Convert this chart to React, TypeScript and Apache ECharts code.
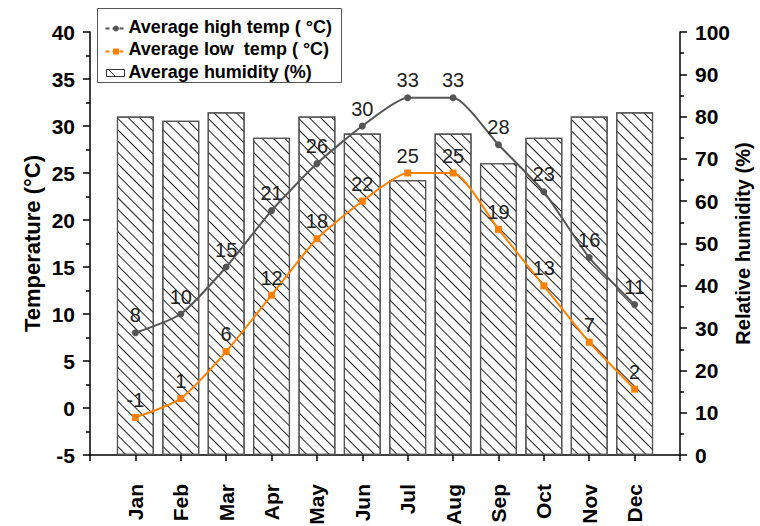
import React, { useEffect, useRef } from "react";
import * as echarts from "echarts";

const months = ["Jan", "Feb", "Mar", "Apr", "May", "Jun", "Jul", "Aug", "Sep", "Oct", "Nov", "Dec"];
const highTemp = [8, 10, 15, 21, 26, 30, 33, 33, 28, 23, 16, 11];
const lowTemp = [-1, 1, 6, 12, 18, 22, 25, 25, 19, 13, 7, 2];
const humidity = [80, 79, 81, 75, 80, 76, 65, 76, 69, 75, 80, 81];

const FONT = "'Liberation Sans', Arial, Helvetica, sans-serif";
const HIGH_COLOR = "#555555";
const LOW_COLOR = "#ff8000";

export default function App() {
  const ref = useRef<HTMLDivElement>(null);

  useEffect(() => {
    if (!ref.current) return;
    const chart = echarts.init(ref.current, undefined, { renderer: "svg" });

    const axisTextStyle = { color: "#000", fontFamily: FONT, fontWeight: "bold" as const, fontSize: 21 };
    const axisLine = { show: true, lineStyle: { color: "#000", width: 1.5 } };
    const tick = { show: true, inside: false, length: 7, lineStyle: { color: "#000", width: 1.5 } };
    const minor = { show: true, splitNumber: 2, length: 4, lineStyle: { color: "#000", width: 1.5 } };
    const valueLabel = { show: true, position: "top" as const, distance: 4, color: "#222", fontFamily: FONT, fontSize: 20 };
    const legendFont = `bold 18px ${FONT}`;

    chart.setOption({
      animation: false,
      backgroundColor: "#fff",
      grid: { left: 90, right: 80, top: 32, bottom: 71, containLabel: false, outerBoundsMode: "none" },
      xAxis: {
        type: "value",
        min: 0,
        max: 13,
        interval: 1,
        axisLine: { ...axisLine, onZero: false },
        axisTick: { ...tick, length: 6 },
        splitLine: { show: false },
        axisLabel: {
          ...axisTextStyle,
          rotate: 90,
          margin: 29,
          formatter: (v: number) => months[v - 1] ?? "",
        },
      },
      yAxis: [
        {
          type: "value",
          min: -5,
          max: 40,
          interval: 5,
          position: "left",
          axisLine,
          axisTick: tick,
          minorTick: minor,
          splitLine: { show: false },
          axisLabel: { ...axisTextStyle, margin: 15 },
          name: "Temperature (°C)",
          nameLocation: "middle",
          nameGap: 47,
          nameMoveOverlap: false,
          nameTextStyle: { ...axisTextStyle, fontSize: 22 },
        },
        {
          type: "value",
          min: 0,
          max: 100,
          interval: 10,
          position: "right",
          axisLine,
          axisTick: tick,
          minorTick: minor,
          splitLine: { show: false },
          axisLabel: { ...axisTextStyle, margin: 15 },
          name: "Relative humidity (%)",
          nameLocation: "middle",
          nameGap: 53,
          nameMoveOverlap: false,
          nameTextStyle: { ...axisTextStyle, fontSize: 20 },
        },
      ],
      series: [
        {
          name: "Average humidity (%)",
          type: "bar",
          yAxisIndex: 1,
          barWidth: 37,
          z: 1,
          data: humidity.map((v, i) => [i + 1, v]),
          itemStyle: {
            color: "#fff",
            borderColor: "#555",
            borderWidth: 1.2,
            decal: {
              symbol: "rect",
              symbolSize: 1,
              dashArrayX: [1, 0],
              dashArrayY: [1, 7],
              rotation: Math.PI / 4,
              color: "#222",
            },
          },
        },
        {
          name: "Average high temp",
          type: "line",
          yAxisIndex: 0,
          z: 3,
          smooth: 0.2,
          symbol: "circle",
          symbolSize: 7,
          data: highTemp.map((v, i) => [i + 1, v]),
          itemStyle: { color: HIGH_COLOR },
          lineStyle: { color: HIGH_COLOR, width: 2 },
          label: valueLabel,
        },
        {
          name: "Average low temp",
          type: "line",
          yAxisIndex: 0,
          z: 3,
          smooth: 0.2,
          symbol: "rect",
          symbolSize: 7,
          data: lowTemp.map((v, i) => [i + 1, v]),
          itemStyle: { color: LOW_COLOR },
          lineStyle: { color: LOW_COLOR, width: 2 },
          label: valueLabel,
        },
      ],
      graphic: [
        {
          type: "group",
          left: 97,
          top: 8,
          z: 10,
          children: [
            { type: "rect", shape: { x: 0, y: 0, width: 244, height: 74 }, style: { fill: "#fff", stroke: "#555", lineWidth: 1 } },
            { type: "line", shape: { x1: 8, y1: 20, x2: 29, y2: 20 }, style: { stroke: HIGH_COLOR, lineWidth: 2, lineDash: [4, 3] } },
            { type: "circle", shape: { cx: 18.5, cy: 20, r: 3 }, style: { fill: HIGH_COLOR } },
            { type: "text", x: 31, y: 18, style: { text: "Average high temp ( °C)", fill: "#000", font: legendFont, verticalAlign: "middle" } },
            { type: "line", shape: { x1: 8, y1: 43, x2: 29, y2: 43 }, style: { stroke: LOW_COLOR, lineWidth: 2, lineDash: [4, 3] } },
            { type: "rect", shape: { x: 15.5, y: 40, width: 6, height: 6 }, style: { fill: LOW_COLOR } },
            { type: "text", x: 31, y: 40, style: { text: "Average low  temp ( °C)", fill: "#000", font: legendFont, verticalAlign: "middle" } },
            { type: "rect", shape: { x: 9, y: 61, width: 18, height: 7 }, style: { fill: "#fff", stroke: "#333", lineWidth: 1 } },
            { type: "line", shape: { x1: 11, y1: 61, x2: 18, y2: 68 }, style: { stroke: "#333", lineWidth: 1 } },
            { type: "text", x: 31, y: 63, style: { text: "Average humidity (%)", fill: "#000", font: legendFont, verticalAlign: "middle" } },
          ],
        },
      ],
    });

    return () => chart.dispose();
  }, []);

  return <div ref={ref} style={{ width: 760, height: 526, position: "absolute", left: 0, top: 0 }} />;
}
